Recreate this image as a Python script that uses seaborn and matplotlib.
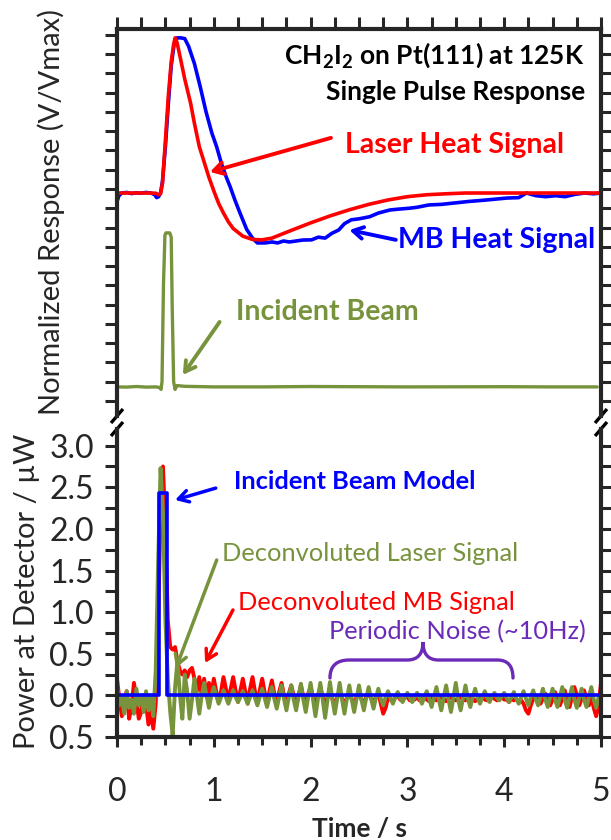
import numpy as np
import matplotlib
matplotlib.use("Agg")
import matplotlib.pyplot as plt
from matplotlib.path import Path
from matplotlib.patches import PathPatch
from matplotlib.ticker import MultipleLocator, FuncFormatter
import seaborn as sns

# ---------------- single pulse response (upper panel, offset normalized units) ----------------
t_laser = [0, 0.1, 0.2, 0.3, 0.4, 0.43, 0.45, 0.47, 0.50, 0.53, 0.56, 0.585, 0.60, 0.62, 0.65,
           0.70, 0.76, 0.80, 0.85, 0.90, 0.95, 1.00, 1.05, 1.10, 1.15, 1.20, 1.30, 1.40, 1.50,
           1.60, 1.80, 2.00, 2.20, 2.40, 2.60, 2.80, 3.00, 3.20, 3.40, 3.60, 4.00, 4.50, 5.00]
laser_heat = [10.79, 10.79, 10.79, 10.79, 10.78, 10.70, 10.75, 11.30, 13.50, 15.80, 17.60, 18.50,
              18.84, 18.60, 17.90, 16.70, 15.46, 14.40, 13.20, 12.40, 11.60, 10.90, 10.25, 9.75,
              9.30, 8.95, 8.55, 8.38, 8.36, 8.45, 8.85, 9.24, 9.60, 9.92, 10.20, 10.43, 10.60,
              10.70, 10.75, 10.79, 10.79, 10.79, 10.79]

t_mb = [0, 0.02, 0.05, 0.1, 0.15, 0.2, 0.25, 0.3, 0.35, 0.39, 0.41, 0.43, 0.45, 0.47, 0.50, 0.53,
        0.56, 0.59, 0.62, 0.66, 0.70, 0.74, 0.80, 0.86, 0.92, 0.98, 1.03, 1.08, 1.13, 1.17, 1.22,
        1.27, 1.34, 1.40, 1.45, 1.53, 1.60, 1.66, 1.72, 1.78, 1.85, 1.92, 2.01, 2.08, 2.15, 2.22,
        2.29, 2.35, 2.42, 2.50, 2.61, 2.70, 2.82, 2.90, 3.02, 3.10, 3.22, 3.35, 3.50, 3.63, 3.80,
        4.03, 4.15, 4.23, 4.33, 4.43, 4.53, 4.63, 4.73, 4.83, 4.92, 5.00]
mb_heat = [10.35, 10.65, 10.79, 10.82, 10.76, 10.80, 10.78, 10.82, 10.79, 10.70, 10.55, 10.60,
           10.80, 11.40, 13.20, 15.40, 17.40, 18.50, 18.84, 18.84, 18.80, 18.40, 17.50, 16.30,
           15.00, 13.90, 13.18, 12.30, 11.60, 11.10, 10.40, 9.76, 8.90, 8.45, 8.20, 8.20, 8.25,
           8.20, 8.30, 8.25, 8.30, 8.35, 8.36, 8.50, 8.45, 8.70, 8.87, 9.20, 9.40, 9.45, 9.56,
           9.75, 9.91, 9.95, 10.00, 10.05, 10.17, 10.20, 10.28, 10.35, 10.42, 10.53, 10.55,
           10.79, 10.65, 10.60, 10.65, 10.60, 10.72, 10.79, 10.75, 10.79]

t_beam = [0, 0.1, 0.2, 0.3, 0.4, 0.44, 0.455, 0.465, 0.48, 0.495, 0.505, 0.545, 0.56, 0.57,
          0.585, 0.60, 0.62, 0.7, 1.0, 1.5, 2.0, 3.0, 4.0, 4.5, 4.96]
incident_beam = [0.73, 0.72, 0.75, 0.72, 0.73, 0.70, 0.60, 1.00, 6.00, 8.60, 8.72, 8.72, 8.50,
                 5.00, 1.00, 0.60, 0.80, 0.76, 0.73, 0.73, 0.75, 0.73, 0.74, 0.73, 0.73]

# ---------------- deconvolution (lower panel, µW) ----------------
t_model = [0.0, 0.43, 0.43, 0.52, 0.52, 5.0]
beam_model = [0.0, 0.0, 2.43, 2.43, 0.0, 0.0]

# sampled every 25 ms from 0 to 5 s
t_dec = np.linspace(0.0, 5.0, 201)
dec_mb = [
    # 0.000 - 0.375
    0.20, -0.05, -0.25, -0.10, 0.05, -0.28, -0.15, 0.15, -0.05, -0.28, -0.20, 0.00, -0.10, -0.35, -0.20, -0.40,
    # 0.400 - 1.000
    -0.10, 0.90, 2.20, 2.75, 2.00, 0.90, 0.58, 0.55, 0.58, 0.40, 0.30, 0.25, 0.30, 0.22, 0.30, 0.33, 0.20,
    0.05, 0.22, 0.00, 0.20, -0.02, 0.15, 0.00, 0.20,
    # 1.025 - 2.000
    0.05, -0.08, 0.05, 0.22, 0.08, -0.06, 0.08, 0.22, 0.06, -0.08, 0.06, 0.20, 0.05, -0.10, 0.08, 0.22,
    0.05, -0.08, 0.06, 0.20, 0.04, -0.10, 0.05, 0.18, 0.02, -0.10, 0.04, 0.15, 0.00, -0.12, 0.02, 0.12,
    0.00, -0.12, 0.00, 0.12, -0.02, -0.12, 0.02, 0.10,
    # 2.025 - 3.000
    -0.02, -0.12, 0.00, 0.10, -0.02, -0.12, -0.02, 0.08, -0.04, -0.12, -0.02, 0.06, -0.04, -0.10, -0.03, 0.05,
    -0.05, -0.10, -0.02, 0.04, -0.05, -0.08, -0.02, 0.03, -0.04, -0.08, -0.02, 0.03, -0.10, -0.22, -0.15, -0.02,
    -0.05, -0.08, -0.02, 0.00, -0.05, -0.06, -0.02, -0.02,
    # 3.025 - 4.000
    -0.06, -0.03, -0.05, -0.02, -0.06, -0.04, -0.02, -0.05, -0.07, -0.03, -0.02, -0.06, -0.05, -0.02, -0.04, -0.07,
    -0.04, -0.02, -0.05, -0.06, -0.03, -0.02, -0.05, -0.06, -0.03, -0.02, -0.04, -0.07, -0.04, -0.02, -0.03, -0.05,
    -0.06, -0.03, -0.02, -0.04, -0.06, -0.04, -0.02, -0.05,
    # 4.025 - 5.000
    -0.05, -0.08, -0.04, -0.06, -0.04, -0.08, -0.06, -0.10, -0.18, -0.22, -0.12, -0.04, 0.00, -0.06, -0.10, -0.04,
    0.02, -0.05, -0.12, -0.05, 0.04, -0.04, -0.12, -0.04, 0.06, -0.04, -0.14, -0.02, 0.10, 0.00, -0.12, -0.04,
    0.06, -0.04, -0.12, -0.02, -0.15, -0.25, -0.12, 0.15,
]
dec_laser = [
    # 0.000 - 0.375
    0.10, -0.12, -0.02, -0.22, 0.05, -0.15, -0.05, -0.22, 0.08, -0.12, 0.00, -0.20, 0.05, -0.18, 0.00, -0.25,
    # 0.400 - 1.000
    0.30, 1.60, 2.73, 2.20, 0.90, 0.20, -0.20, -0.48, 0.10, 0.42, 0.00, -0.28, 0.25, 0.05, -0.28, -0.05,
    0.20, 0.00, -0.22, 0.00, 0.15, 0.00, -0.15, 0.00, 0.10,
    # 1.025 - 2.000
    0.00, -0.10, -0.02, 0.06, -0.02, -0.10, -0.02, 0.06, -0.02, -0.08, -0.02, 0.05, -0.03, -0.10, -0.02, 0.06,
    -0.03, -0.12, -0.02, 0.08, -0.03, -0.14, -0.02, 0.10, -0.04, -0.16, -0.02, 0.12, -0.04, -0.18, -0.02, 0.12,
    -0.05, -0.18, -0.02, 0.14, -0.05, -0.20, -0.02, 0.15,
    # 2.025 - 3.000
    -0.05, -0.25, -0.05, 0.15, -0.05, -0.27, -0.05, 0.16, -0.05, -0.22, -0.04, 0.15, -0.05, -0.22, -0.04, 0.12,
    -0.05, -0.20, -0.04, 0.12, -0.05, -0.18, -0.03, 0.10, -0.04, -0.16, -0.03, 0.08, -0.04, -0.12, -0.02, 0.05,
    -0.03, -0.10, -0.02, 0.04, -0.03, -0.08, -0.02, 0.03,
    # 3.025 - 4.000
    -0.03, -0.08, -0.02, 0.03, -0.03, -0.10, -0.02, 0.05, -0.04, -0.14, -0.02, 0.10, -0.05, -0.18, -0.03, 0.12,
    -0.05, -0.20, -0.03, 0.15, -0.05, -0.18, -0.03, 0.12, -0.04, -0.14, -0.02, 0.08, -0.03, -0.10, -0.02, 0.05,
    -0.03, -0.08, -0.01, 0.03, -0.03, -0.06, -0.01, 0.03,
    # 4.025 - 5.000
    -0.03, -0.08, -0.02, 0.04, -0.04, -0.10, -0.02, 0.05, -0.04, -0.12, -0.02, 0.06, -0.04, -0.12, -0.02, 0.08,
    -0.05, -0.14, -0.02, 0.08, -0.05, -0.14, -0.02, 0.10, -0.05, -0.15, -0.02, 0.10, -0.05, -0.15, -0.02, 0.08,
    -0.05, -0.14, -0.02, 0.10, -0.05, -0.15, -0.02, 0.02,
]

x_ticks = [0, 1, 2, 3, 4, 5]
y_ticks_power = [-0.5, 0.0, 0.5, 1.0, 1.5, 2.0, 2.5, 3.0]

RED = "#FF0000"
BLUE = "#0000FF"
GREEN = "#77933C"
PURPLE = "#6B2AB8"

sns.set_theme(style="ticks")
plt.rcParams["font.family"] = ["Lato", "DejaVu Sans"]
plt.rcParams["mathtext.fontset"] = "custom"
plt.rcParams["mathtext.rm"] = "Lato"
plt.rcParams["mathtext.bf"] = "Lato:bold"

W, H = 611, 840
fig = plt.figure(figsize=(W / 100, H / 100), dpi=100)


def box(l, t, r, b):
    return [l / W, 1 - b / H, (r - l) / W, (b - t) / H]


ax_top = fig.add_axes(box(117, 29, 601, 416))
ax_bot = fig.add_axes(box(117, 429, 601, 737))

# ---- upper panel curves ----
sns.lineplot(x=t_mb, y=mb_heat, ax=ax_top, color=BLUE, lw=2.6, estimator=None, sort=False)
sns.lineplot(x=t_laser, y=laser_heat, ax=ax_top, color=RED, lw=2.6, estimator=None, sort=False)
sns.lineplot(x=t_beam, y=incident_beam, ax=ax_top, color=GREEN, lw=2.4, estimator=None, sort=False)

# ---- lower panel curves ----
sns.lineplot(x=t_dec, y=dec_mb, ax=ax_bot, color=RED, lw=2.8, estimator=None, sort=False)
sns.lineplot(x=t_dec, y=dec_laser, ax=ax_bot, color=GREEN, lw=2.8, estimator=None, sort=False)
sns.lineplot(x=t_model, y=beam_model, ax=ax_bot, color=BLUE, lw=2.6, estimator=None, sort=False)

SPINE_W = 3.0
TICK_W = 2.2

# upper axes: frame open at the bottom (broken axis)
ax_top.set_xlim(0, 5)
ax_top.set_ylim(-0.78, 19.30)
ax_top.spines["bottom"].set_visible(False)
for s in ("left", "right", "top"):
    ax_top.spines[s].set_linewidth(SPINE_W)
ax_top.xaxis.set_major_locator(MultipleLocator(0.25))
ax_top.yaxis.set_major_locator(MultipleLocator(1))
ax_top.tick_params(axis="both", which="both", direction="out", length=8.5, width=TICK_W,
                   top=True, bottom=False, left=True, right=True,
                   labelbottom=False, labeltop=False, labelleft=False, labelright=False)
ax_top.set_xlabel("")
ax_top.set_ylabel("")

# lower axes: frame open at the top
ax_bot.set_xlim(0, 5)
ax_bot.set_ylim(-0.5, 3.2)
ax_bot.spines["top"].set_visible(False)
for s in ("left", "right", "bottom"):
    ax_bot.spines[s].set_linewidth(SPINE_W)
ax_bot.set_xticks(x_ticks)
ax_bot.xaxis.set_minor_locator(MultipleLocator(0.25))
ax_bot.set_yticks(y_ticks_power)
ax_bot.yaxis.set_minor_locator(MultipleLocator(0.25))
ax_bot.yaxis.set_major_formatter(FuncFormatter(lambda v, p: f"{abs(v):.1f}"))
ax_bot.tick_params(axis="both", which="both", direction="out", width=TICK_W,
                   top=False, bottom=True, left=True, right=True,
                   labelright=False, labelsize=23)
ax_bot.tick_params(axis="y", which="both", length=8.5, pad=8)
ax_bot.tick_params(axis="x", which="major", length=7.5, pad=21)
ax_bot.tick_params(axis="x", which="minor", length=5.5)
ax_bot.set_xlabel("")
ax_bot.set_ylabel("")

# break marks on both side spines
for ax, ya, dy in ((ax_top, 0.0, 7 / 387), (ax_bot, 1.0, 7 / 308)):
    for xa in (0.0, 1.0):
        ax.plot([xa - 6 / 484, xa + 6 / 484], [ya - dy, ya + dy], transform=ax.transAxes,
                color="black", lw=2.4, clip_on=False, solid_capstyle="butt")

# axis titles
fig.text(51 / W, 1 - 212 / H, "Normalized Response (V/Vmax)", rotation=90,
         ha="center", va="center", fontsize=21)
fig.text(27 / W, 1 - 591 / H, "Power at Detector / µW", rotation=90,
         ha="center", va="center", fontsize=21)
fig.text(359 / W, 1 - 829 / H, "Time / s", ha="center", va="center",
         fontsize=19, fontweight="bold")

ARW = "->,head_length=0.6,head_width=0.35"
TOP_FS = 20.5
BOT_FS = 18.3

# upper panel annotations
ax_top.text(0.967, 0.933, r"CH$_\mathbf{2}$I$_\mathbf{2}$ on Pt(111) at 125K", transform=ax_top.transAxes,
            ha="right", va="center", fontsize=19, fontweight="bold", color="black")
ax_top.text(0.967, 0.837, "Single Pulse Response", transform=ax_top.transAxes,
            ha="right", va="center", fontsize=19, fontweight="bold", color="black")

ax_top.text(2.36, 13.28, "Laser Heat Signal", ha="left", va="center", fontsize=TOP_FS,
            fontweight="bold", color=RED)
ax_top.annotate("", xy=(0.96, 11.88), xytext=(2.21, 13.65),
                arrowprops=dict(arrowstyle=ARW, color=RED, lw=2.8, shrinkA=0, shrinkB=0))

ax_top.text(2.90, 8.36, "MB Heat Signal", ha="left", va="center", fontsize=TOP_FS,
            fontweight="bold", color=BLUE)
ax_top.annotate("", xy=(2.40, 8.87), xytext=(2.88, 8.36),
                arrowprops=dict(arrowstyle=ARW, color=BLUE, lw=2.8, shrinkA=0, shrinkB=0))

ax_top.text(1.23, 4.62, "Incident Beam", ha="left", va="center", fontsize=TOP_FS,
            fontweight="bold", color=GREEN)
ax_top.annotate("", xy=(0.68, 1.35), xytext=(1.06, 4.10),
                arrowprops=dict(arrowstyle=ARW, color=GREEN, lw=2.8, shrinkA=0, shrinkB=0))

# lower panel annotations
ax_bot.text(1.21, 2.575, "Incident Beam Model", ha="left", va="center", fontsize=BOT_FS,
            fontweight="bold", color=BLUE)
ax_bot.annotate("", xy=(0.60, 2.347), xytext=(1.02, 2.49),
                arrowprops=dict(arrowstyle=ARW, color=BLUE, lw=2.5, shrinkA=0, shrinkB=0))

ax_bot.text(1.085, 1.71, "Deconvoluted Laser Signal", ha="left", va="center", fontsize=BOT_FS,
            color=GREEN)
ax_bot.annotate("", xy=(0.61, 0.33), xytext=(1.03, 1.626),
                arrowprops=dict(arrowstyle=ARW, color=GREEN, lw=2.5, shrinkA=0, shrinkB=0))

ax_bot.text(1.25, 1.11, "Deconvoluted MB Signal", ha="left", va="center", fontsize=BOT_FS,
            color=RED)
ax_bot.annotate("", xy=(0.91, 0.389), xytext=(1.198, 1.026),
                arrowprops=dict(arrowstyle=ARW, color=RED, lw=2.5, shrinkA=0, shrinkB=0))

ax_bot.text(2.19, 0.761, "Periodic Noise (~10Hz)", ha="left", va="center", fontsize=BOT_FS,
            color=PURPLE)

# curly brace spanning the noisy stretch
brace = Path(
    [(2.20, 0.209), (2.20, 0.425), (2.40, 0.425), (3.00, 0.425), (3.161, 0.425), (3.161, 0.641),
     (3.161, 0.425), (3.32, 0.425), (3.93, 0.425), (4.091, 0.425), (4.091, 0.209)],
    [Path.MOVETO, Path.CURVE3, Path.CURVE3, Path.LINETO, Path.CURVE3, Path.CURVE3,
     Path.CURVE3, Path.CURVE3, Path.LINETO, Path.CURVE3, Path.CURVE3],
)
ax_bot.add_patch(PathPatch(brace, facecolor="none", edgecolor=PURPLE, lw=2.4, capstyle="round"))

fig.savefig("out.png", dpi=100)
